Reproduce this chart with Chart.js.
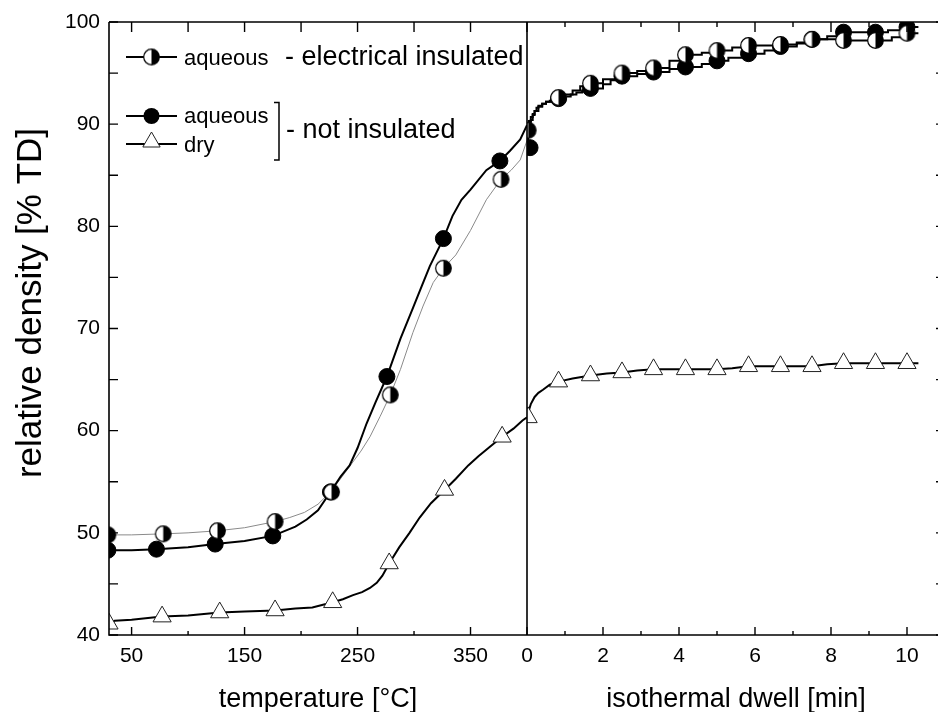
<!DOCTYPE html>
<html>
<head>
<meta charset="utf-8">
<script src="https://cdn.jsdelivr.net/npm/chart.js@4/dist/chart.umd.min.js"></script>
<style>
  html, body { margin: 0; padding: 0; background: #fff; overflow: hidden; }
  #wrap { width: 938px; height: 712px; position: relative; overflow: hidden; }
  #c { position: absolute; left: 0; top: 0; }
</style>
</head>
<body>
<div id="wrap"><canvas id="c" width="945" height="712"></canvas></div>
<script>
// ---------- DATA ----------
// Temperature segment (heating), x in °C
const aqNotInsTempT = [30,50,72,100,124,150,175,195,205,215,226,235,243,250,258,266,276,288,299,307,314,326,334,342,350,364,376,385,394,400];
const aqNotInsTempV = [48.3,48.3,48.4,48.6,48.9,49.2,49.7,50.6,51.3,52.2,54.0,55.5,56.6,58.3,60.7,62.8,65.3,69.0,72.0,74.2,76.1,78.8,81.0,82.6,83.6,85.5,86.4,87.4,88.5,89.9];

const aqInsTempT = [30,50,78,100,126,150,177,190,203,215,226,235,245,253,261,270,279,288,299,308,317,326,337,350,364,377,386,394,400];
const aqInsTempV = [49.8,49.8,49.9,50.0,50.2,50.5,51.1,51.5,52.0,52.8,54.0,55.3,56.8,58.0,59.4,61.4,63.5,66.0,69.6,72.2,74.5,75.9,77.2,79.6,82.6,84.6,85.5,86.5,88.4];

const dryTempT = [30,35,50,77,100,128,150,177,195,210,228,237,246,254,261,267,272,278,287,296,305,315,327,337,348,357,368,378,388,396,400];
const dryTempV = [41.1,41.4,41.5,41.8,41.9,42.2,42.3,42.4,42.6,42.7,43.2,43.5,43.9,44.2,44.6,45.1,45.8,47.0,48.6,50.0,51.5,52.9,54.2,55.3,56.6,57.5,58.5,59.4,60.2,61.0,61.3];

// Temperature segment markers
const mkAqNotInsTempT = [29,72,124,175,226,276,326,376];
const mkAqNotInsTempV = [48.3,48.4,48.9,49.7,54.0,65.3,78.8,86.4];
const mkAqInsTempT = [29,78,126,177,227,279,326,377];
const mkAqInsTempV = [49.8,49.9,50.2,51.1,54.0,63.5,75.9,84.6];
const mkDryTempT = [30,77,128,177,228,278,327,378];
const mkDryTempV = [41.1,41.8,42.2,42.4,43.2,47.0,54.2,59.4];

// Isothermal dwell segment, x in min
const aqNotInsDwellT = [0,0.05,0.1,0.15,0.2,0.25,0.3,0.4,0.5,0.6,0.7,0.83,1.0,1.15,1.3,1.45,1.67,2.0,2.2,2.5,2.9,3.33,3.75,4.17,4.6,5.0,5.3,5.83,6.25,6.67,7.1,7.5,7.9,8.33,8.8,9.17,9.5,10.0,10.3];
const aqNotInsDwellV = [89.9,90.3,90.7,91.0,91.3,91.6,91.8,92.0,92.2,92.3,92.4,92.5,92.7,92.9,93.1,93.3,93.5,93.9,94.3,94.7,94.9,95.1,95.4,95.6,95.9,96.2,96.5,96.9,97.2,97.6,97.9,98.3,98.6,99.0,99.0,99.0,99.2,99.5,99.5];

const aqInsDwellT = [0,0.03,0.07,0.1,0.15,0.2,0.3,0.4,0.5,0.65,0.83,1.0,1.2,1.4,1.67,2.0,2.5,2.9,3.33,3.75,4.17,4.6,5.0,5.4,5.83,6.25,6.67,7.1,7.5,7.9,8.33,8.8,9.17,9.6,10.0,10.3];
const aqInsDwellV = [88.4,89.2,89.9,90.4,90.9,91.3,91.7,92.0,92.2,92.4,92.6,92.9,93.3,93.7,94.0,94.4,95.0,95.2,95.5,96.2,96.8,97.0,97.2,97.5,97.7,97.7,97.8,98.0,98.3,98.3,98.2,98.2,98.2,98.5,98.9,98.9];

const dryDwellT = [0,0.05,0.1,0.2,0.3,0.42,0.6,0.83,1.2,1.67,2.1,2.5,2.9,3.33,4.17,5.0,5.4,5.83,6.67,7.5,7.9,8.33,9.17,10.0,10.3];
const dryDwellV = [61.3,62.0,62.6,63.3,63.7,64.0,64.5,64.8,65.1,65.4,65.6,65.7,65.9,66.0,66.0,66.0,66.1,66.3,66.3,66.3,66.5,66.6,66.6,66.6,66.6];

// Dwell segment markers
const mkAqNotInsDwellT = [0.08,0.83,1.67,2.5,3.33,4.17,5.0,5.83,6.67,7.5,8.33,9.17,10.0];
const mkAqNotInsDwellV = [87.7,92.5,93.5,94.7,95.1,95.6,96.2,96.9,97.6,98.3,99.0,99.0,99.5];
const mkAqInsDwellT = [0.03,0.83,1.67,2.5,3.33,4.17,5.0,5.83,6.67,7.5,8.33,9.17,10.0];
const mkAqInsDwellV = [89.4,92.6,94.0,95.0,95.5,96.8,97.2,97.7,97.8,98.3,98.2,98.2,98.9];
const mkDryDwellT = [0.03,0.83,1.67,2.5,3.33,4.17,5.0,5.83,6.67,7.5,8.33,9.17,10.0];
const mkDryDwellV = [61.3,64.8,65.4,65.7,66.0,66.0,66.0,66.3,66.3,66.3,66.6,66.6,66.6];

// Tick labels / tick positions
const tempTickLabels = [50,150,250,350];
const tempMinorTicks = [100,200,300];
const tempTopTicks = [50,100,150,200,250,300,350];
const dwellTickLabels = [0,2,4,6,8,10];
const dwellMinorTicks = [1,3,5,7,9];
const yTickLabels = [40,50,60,70,80,90,100];
const yMinorTicks = [45,55,65,75,85,95];

// Text
const xTitleTemp = 'temperature [°C]';
const xTitleDwell = 'isothermal dwell [min]';
const yTitle = 'relative density [% TD]';
const legendRow1 = ['aqueous', '- electrical insulated'];
const legendRow2 = 'aqueous';
const legendRow3 = 'dry';
const legendGroup = '- not insulated';

// ---------- RENDERING ----------
const FONT = "'Liberation Sans', Arial, Helvetica, sans-serif";
const pts = (xs, ys) => xs.map((x, i) => ({x: x, y: ys[i]}));

function halfCircle(r) {
  const c = document.createElement('canvas');
  const s = Math.ceil(r * 2 + 3);
  c.width = s; c.height = s;
  const g = c.getContext('2d');
  const cx = s / 2, cy = s / 2;
  g.beginPath(); g.arc(cx, cy, r, 0, Math.PI * 2); g.fillStyle = '#fff'; g.fill();
  g.beginPath(); g.moveTo(cx, cy - r); g.arc(cx, cy, r, -Math.PI / 2, Math.PI / 2); g.closePath();
  g.fillStyle = '#000'; g.fill();
  g.beginPath(); g.arc(cx, cy, r, 0, Math.PI * 2); g.lineWidth = 1.2; g.strokeStyle = '#000'; g.stroke();
  return c;
}
const halfImg = halfCircle(7.8);

const markerDS = (xAxis, xs, ys, style) => Object.assign({
  xAxisID: xAxis, yAxisID: 'y', data: pts(xs, ys), showLine: false
}, style);
const lineDS = (xAxis, xs, ys, color, width, stepped) => ({
  xAxisID: xAxis, yAxisID: 'y', data: pts(xs, ys), showLine: true,
  borderColor: color, borderWidth: width, pointRadius: 0, pointHoverRadius: 0,
  stepped: stepped, tension: 0, fill: false
});

const halfStyle = {pointStyle: halfImg, pointRadius: 8, backgroundColor: '#000', borderColor: '#000'};
const filledStyle = {pointStyle: 'circle', pointRadius: 8, backgroundColor: '#000', borderColor: '#000', pointBorderWidth: 1};
const dryStyle = {pointStyle: 'triangle', pointRadius: 10.5, backgroundColor: '#fff', borderColor: '#222', pointBorderWidth: 1};

const datasets = [
  markerDS('xT', mkAqInsTempT, mkAqInsTempV, halfStyle),
  markerDS('xT', mkAqNotInsTempT, mkAqNotInsTempV, filledStyle),
  markerDS('xT', mkDryTempT, mkDryTempV, dryStyle),
  markerDS('xD', mkAqInsDwellT, mkAqInsDwellV, halfStyle),
  markerDS('xD', mkAqNotInsDwellT, mkAqNotInsDwellV, filledStyle),
  markerDS('xD', mkDryDwellT, mkDryDwellV, dryStyle),
  lineDS('xT', aqNotInsTempT, aqNotInsTempV, '#000', 2, false),
  lineDS('xT', aqInsTempT, aqInsTempV, '#8a8a8a', 1, false),
  lineDS('xT', dryTempT, dryTempV, '#000', 2, false),
  lineDS('xD', aqNotInsDwellT, aqNotInsDwellV, '#000', 2, true),
  lineDS('xD', aqInsDwellT, aqInsDwellV, '#000', 2, true),
  lineDS('xD', dryDwellT, dryDwellV, '#000', 2, false)
];

const frameAndLegend = {
  id: 'frameAndLegend',
  afterDatasetsDraw(chart) {
    const {ctx, chartArea: a, scales} = chart;
    const xT = scales.xT, xD = scales.xD, y = scales.y;
    ctx.save();
    ctx.strokeStyle = '#000';
    ctx.lineCap = 'butt';
    // frame
    ctx.lineWidth = 1.6;
    ctx.beginPath();
    ctx.moveTo(a.left, a.top); ctx.lineTo(a.left, a.bottom); ctx.lineTo(a.right, a.bottom);
    ctx.moveTo(a.left, a.top); ctx.lineTo(a.right, a.top); ctx.lineTo(a.right, a.bottom);
    const xd = xD.getPixelForValue(0);
    ctx.moveTo(xd, a.top); ctx.lineTo(xd, a.bottom);
    ctx.stroke();
    // ticks
    ctx.lineWidth = 1.4;
    ctx.beginPath();
    const vt = (px, len, top) => {
      if (top) { ctx.moveTo(px, a.top); ctx.lineTo(px, a.top + len); }
      else { ctx.moveTo(px, a.bottom); ctx.lineTo(px, a.bottom - len); }
    };
    tempTickLabels.forEach(v => vt(xT.getPixelForValue(v), 8, false));
    tempMinorTicks.forEach(v => vt(xT.getPixelForValue(v), 4, false));
    tempTopTicks.forEach(v => vt(xT.getPixelForValue(v), 10, true));
    dwellTickLabels.forEach(v => { const p = xD.getPixelForValue(v); vt(p, 8, false); vt(p, 10, true); });
    dwellMinorTicks.forEach(v => { const p = xD.getPixelForValue(v); vt(p, 4, false); vt(p, 5, true); });
    yTickLabels.concat(yMinorTicks).forEach(v => {
      const p = y.getPixelForValue(v);
      ctx.moveTo(a.left, p); ctx.lineTo(a.left + 9, p);
      ctx.moveTo(a.right, p); ctx.lineTo(a.right - 9, p);
    });
    ctx.stroke();

    // y-axis title
    ctx.save();
    ctx.translate(31, 303);
    ctx.rotate(-Math.PI / 2);
    ctx.font = '35px ' + FONT;
    ctx.fillStyle = '#000';
    ctx.textAlign = 'center';
    ctx.textBaseline = 'middle';
    ctx.fillText(yTitle, 0, 0);
    ctx.restore();

    // legend
    const mx = 151.5, lx0 = 126, lx1 = 177, tx = 184;
    ctx.lineWidth = 1.8;
    ctx.beginPath();
    ctx.moveTo(lx0, 57); ctx.lineTo(lx1, 57);
    ctx.moveTo(lx0, 116); ctx.lineTo(lx1, 116);
    ctx.moveTo(lx0, 144); ctx.lineTo(lx1, 144);
    ctx.stroke();
    ctx.drawImage(halfImg, mx - halfImg.width / 2, 57 - halfImg.height / 2);
    ctx.fillStyle = '#000';
    ctx.beginPath(); ctx.arc(mx, 116, 8, 0, Math.PI * 2); ctx.fill();
    ctx.fillStyle = '#fff'; ctx.strokeStyle = '#222'; ctx.lineWidth = 1;
    Chart.helpers.drawPoint(ctx, {pointStyle: 'triangle', radius: 10, borderWidth: 1}, mx, 142);
    ctx.fillStyle = '#000'; ctx.strokeStyle = '#000';
    ctx.textBaseline = 'alphabetic'; ctx.textAlign = 'left';
    ctx.font = '22px ' + FONT;
    ctx.fillText(legendRow1[0], tx, 65);
    ctx.fillText(legendRow2, tx, 123);
    ctx.fillText(legendRow3, tx, 151.5);
    ctx.font = '27px ' + FONT;
    ctx.fillText(legendRow1[1], 285, 65);
    ctx.fillText(legendGroup, 286, 137.5);
    // bracket
    ctx.lineWidth = 1.5;
    ctx.beginPath();
    ctx.moveTo(274, 102.5); ctx.lineTo(279, 102.5); ctx.lineTo(279, 160); ctx.lineTo(274, 160);
    ctx.stroke();
    ctx.restore();
  }
};

const tickFont = {family: FONT, size: 21};
const titleFont = {family: FONT, size: 27, lineHeight: 0.92};
const zeroPadX = s => { s.height = 77; s.paddingLeft = 0; s.paddingRight = 0; s.paddingTop = 0; s.paddingBottom = 0; };

new Chart(document.getElementById('c'), {
  type: 'scatter',
  data: {datasets: datasets},
  plugins: [frameAndLegend],
  options: {
    responsive: false,
    animation: false,
    devicePixelRatio: 1,
    events: [],
    layout: {autoPadding: false, padding: {top: 22, right: 0, bottom: 0, left: 0}},
    plugins: {legend: {display: false}, tooltip: {enabled: false}},
    scales: {
      xT: {
        type: 'linear', axis: 'x', position: 'bottom', stack: 'bottomX', stackWeight: 1,
        min: 30, max: 400,
        grid: {display: false, drawTicks: false}, border: {display: false},
        afterBuildTicks: s => { s.ticks = tempTickLabels.map(v => ({value: v})); },
        afterFit: zeroPadX,
        ticks: {font: tickFont, color: '#000', padding: 9, autoSkip: false, maxRotation: 0},
        title: {display: true, text: xTitleTemp, font: titleFont, color: '#000', padding: {top: 0, bottom: 0}}
      },
      xD: {
        type: 'linear', axis: 'x', position: 'bottom', stack: 'bottomX', stackWeight: 1,
        min: 0, max: 11,
        grid: {display: false, drawTicks: false}, border: {display: false},
        afterBuildTicks: s => { s.ticks = dwellTickLabels.map(v => ({value: v})); },
        afterFit: zeroPadX,
        ticks: {font: tickFont, color: '#000', padding: 9, autoSkip: false, maxRotation: 0},
        title: {display: true, text: xTitleDwell, font: titleFont, color: '#000', padding: {top: 0, bottom: 0}}
      },
      y: {
        type: 'linear', position: 'left', min: 40, max: 100,
        grid: {display: false, drawTicks: false}, border: {display: false},
        afterBuildTicks: s => { s.ticks = yTickLabels.map(v => ({value: v})); },
        afterFit: s => { s.width = 109; s.paddingTop = 0; s.paddingBottom = 0; s.paddingLeft = 0; s.paddingRight = 0; },
        ticks: {font: tickFont, color: '#000', padding: 9, autoSkip: false},
        title: {display: false, text: yTitle}
      }
    }
  }
});
</script>
</body>
</html>
